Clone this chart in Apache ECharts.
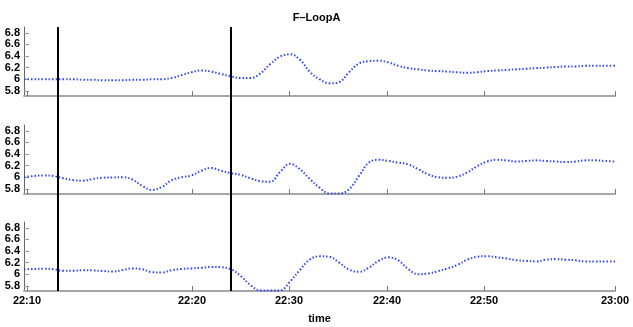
<!DOCTYPE html>
<html>
<head>
<meta charset="UTF-8">
<title>F-LoopA</title>
<script src="https://cdn.jsdelivr.net/npm/echarts@6/dist/echarts.min.js"></script>
<style>
  html, body { margin: 0; padding: 0; background: #fff; }
  #chart { width: 633px; height: 327px; }
</style>
</head>
<body>
<div id="chart"></div>
<script>
// x is the sample number (0..60); the time ticks sit at uneven sample positions
var tickPos = [0.3, 17.06, 26.9, 36.85, 46.7, 60];
var tickLabels = ['22:10', '22:20', '22:30', '22:40', '22:50', '23:00'];
var eventPos = [3.4, 20.96];
var yTicks = [5.8, 6, 6.2, 6.4, 6.6, 6.8];

var topVals = [6.0, 6.0, 6.0, 6.0, 6.0, 6.0, 5.99, 5.99, 5.98, 5.98,
  5.98, 5.99, 5.99, 6.0, 6.0, 6.02, 6.07, 6.12, 6.15, 6.13,
  6.09, 6.05, 6.02, 6.02, 6.10, 6.26, 6.39, 6.43, 6.34, 6.13,
  6.0, 5.93, 5.95, 6.12, 6.27, 6.31, 6.32, 6.29, 6.23, 6.19,
  6.17, 6.15, 6.14, 6.13, 6.12, 6.11, 6.12, 6.14, 6.15, 6.16,
  6.17, 6.18, 6.19, 6.20, 6.21, 6.22, 6.22, 6.23, 6.23, 6.23, 6.23];

var midVals = [6.0, 6.02, 6.03, 6.02, 5.98, 5.95, 5.94, 5.97, 5.99, 5.995,
  6.0, 5.96, 5.85, 5.78, 5.83, 5.95, 6.0, 6.03, 6.11, 6.16,
  6.11, 6.07, 6.04, 5.98, 5.93, 5.92, 6.09, 6.23, 6.14, 5.97,
  5.82, 5.72, 5.72, 5.79, 6.02, 6.25, 6.30, 6.28, 6.25, 6.22,
  6.14, 6.05, 6.0, 5.99, 6.01, 6.08, 6.19, 6.27, 6.30, 6.29,
  6.27, 6.28, 6.29, 6.28, 6.27, 6.26, 6.27, 6.29, 6.29, 6.28, 6.27];

var botVals = [6.085, 6.09, 6.095, 6.085, 6.06, 6.06, 6.07, 6.065, 6.055, 6.045,
  6.07, 6.10, 6.085, 6.035, 6.03, 6.07, 6.09, 6.10, 6.11, 6.125,
  6.12, 6.085, 5.97, 5.81, 5.72, 5.72, 5.72, 5.87, 6.07, 6.25,
  6.31, 6.30, 6.20, 6.08, 6.04, 6.11, 6.23, 6.29, 6.24, 6.09,
  6.0, 6.01, 6.05, 6.10, 6.16, 6.25, 6.30, 6.31, 6.29, 6.27,
  6.24, 6.23, 6.22, 6.25, 6.26, 6.25, 6.24, 6.22, 6.22, 6.22, 6.22];

var chart = echarts.init(document.getElementById('chart'));
var font = 'Liberation Sans, Arial, sans-serif';
var panels = [topVals, midVals, botVals];
var grids = [
  {left: 24, right: 18, top: 27, height: 69},
  {left: 24, right: 18, top: 125, height: 69},
  {left: 24, right: 18, top: 222, height: 69},
  {left: 24, right: 18, top: 27, height: 264}   // overlay for event lines
];

function pairs(arr) {
  return arr.map(function (v, i) { return [i, v]; });
}

var xAxes = [], yAxes = [], series = [];
for (var k = 0; k < 3; k++) {
  var last = k == 2;
  xAxes.push({
    gridIndex: k, type: 'value', min: 0, max: 60,
    axisLine: {onZero: false, lineStyle: {color: '#a6a6a6', width: 2}},
    axisTick: {inside: true, length: 5, customValues: tickPos, lineStyle: {color: '#777'}},
    axisLabel: {show: last, customValues: tickPos, margin: 4, color: '#000',
      fontWeight: 'bold', fontSize: 11, fontFamily: font,
      formatter: function (v) {
        var j = tickPos.indexOf(v);
        return j >= 0 ? tickLabels[j] : '';
      }},
    splitLine: {show: false},
    name: last ? 'time' : '', nameLocation: 'middle', nameGap: 22,
    nameTextStyle: {fontWeight: 'bold', fontSize: 11, fontFamily: font, color: '#000'}
  });
  yAxes.push({
    gridIndex: k, type: 'value', min: 5.71, max: 6.9,
    axisLine: {show: true, lineStyle: {color: '#666', width: 1}},
    axisTick: {inside: true, length: 5, customValues: yTicks, lineStyle: {color: '#999'}},
    axisLabel: {customValues: yTicks, margin: 4, color: '#000', fontWeight: 'bold',
      fontSize: 11, fontFamily: font},
    splitLine: {show: false}
  });
  series.push({
    type: 'line', xAxisIndex: k, yAxisIndex: k,
    data: pairs(panels[k]),
    smooth: 0.4, showSymbol: false, silent: true,
    lineStyle: {color: '#2f45ff', width: 2, type: [1.5, 2], cap: 'butt'}
  });
}

xAxes.push({gridIndex: 3, type: 'value', min: 0, max: 60, show: false});
yAxes.push({gridIndex: 3, type: 'value', min: 0, max: 1, show: false});
series.push({
  type: 'line', xAxisIndex: 3, yAxisIndex: 3, data: [], silent: true, z: 5,
  markLine: {
    silent: true, symbol: 'none', label: {show: false},
    lineStyle: {color: '#000', width: 2, type: 'solid'},
    data: eventPos.map(function (p) { return {xAxis: p}; })
  }
});

chart.setOption({
  animation: false,
  title: {text: 'F\u2013LoopA', left: 'center', top: 7,
    textStyle: {fontSize: 11, fontWeight: 'bold', fontFamily: font, color: '#000'}},
  grid: grids,
  xAxis: xAxes,
  yAxis: yAxes,
  series: series
});
</script>
</body>
</html>
